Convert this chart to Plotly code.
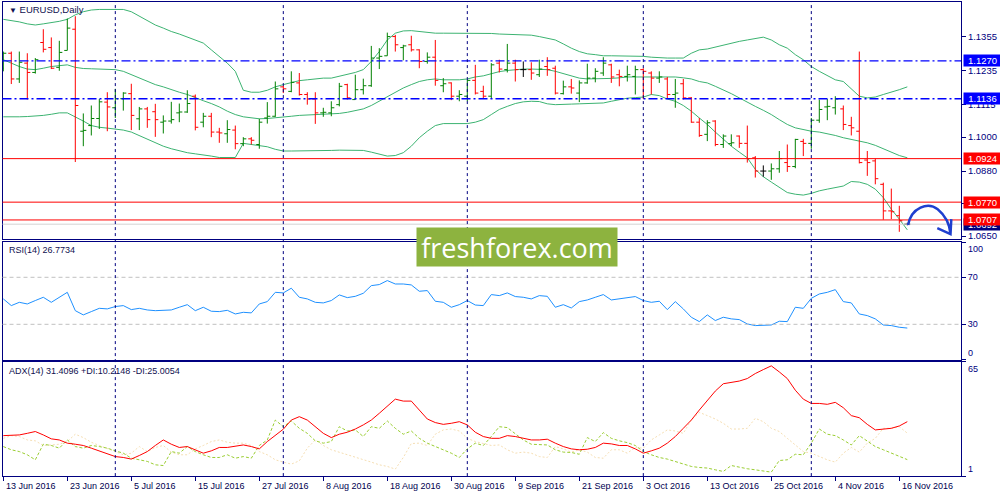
import plotly.graph_objects as go

# Daily bars 13 Jun 2016 .. 17 Nov 2016 (one entry per bar, index = position on chart)
bar_open = [1.1244, 1.1297, 1.1206, 1.1262, 1.1229, 1.1335, 1.1317, 1.1247, 1.1307, 1.1382,
            1.1021, 1.1041, 1.1066, 1.1124, 1.1104, 1.1136, 1.1154, 1.1065, 1.1100, 1.1090,
            1.1053, 1.1057, 1.1086, 1.1089, 1.1145, 1.1053, 1.1074, 1.1018, 1.1012, 1.1025,
            1.0977, 1.0994, 1.0974, 1.1068, 1.1074, 1.1178, 1.1162, 1.1192, 1.1151, 1.1135,
            1.1086, 1.1086, 1.1115, 1.1186, 1.1133, 1.1168, 1.1182, 1.1280, 1.1288, 1.1356,
            1.1317, 1.1327, 1.1309, 1.1268, 1.1283, 1.1182, 1.1192, 1.1145, 1.1145, 1.1201,
            1.1162, 1.1145, 1.1262, 1.1239, 1.1262, 1.1239, 1.1239, 1.1221, 1.1250, 1.1244,
            1.1154, 1.1178, 1.1156, 1.1192, 1.1209, 1.1227, 1.1256, 1.1221, 1.1215, 1.1215,
            1.1239, 1.1227, 1.1209, 1.1206, 1.1151, 1.1189, 1.1139, 1.1053, 1.1010, 1.1057,
            1.0974, 1.0977, 1.1004, 1.0978, 1.0927, 1.0880, 1.0880, 1.0888, 1.0910, 1.0896,
            1.0985, 1.0978, 1.1060, 1.1107, 1.1104, 1.1100, 1.1041, 1.1021, 1.0919, 1.0916,
            1.0833, 1.0739, 1.0722, 1.0692]
bar_high = [1.1303, 1.1303, 1.1303, 1.1297, 1.1280, 1.1382, 1.1353, 1.1341, 1.1420, 1.1428,
            1.1084, 1.1112, 1.1135, 1.1159, 1.1171, 1.1159, 1.1189, 1.1107, 1.1107, 1.1118,
            1.1077, 1.1125, 1.1119, 1.1166, 1.1151, 1.1086, 1.1086, 1.1033, 1.1060, 1.1041,
            1.1000, 1.1000, 1.1065, 1.1124, 1.1197, 1.1182, 1.1233, 1.1227, 1.1159, 1.1159,
            1.1104, 1.1127, 1.1192, 1.1189, 1.1221, 1.1207, 1.1323, 1.1315, 1.1370, 1.1362,
            1.1327, 1.1359, 1.1311, 1.1300, 1.1344, 1.1209, 1.1194, 1.1166, 1.1203, 1.1256,
            1.1182, 1.1262, 1.1274, 1.1330, 1.1274, 1.1268, 1.1265, 1.1274, 1.1283, 1.1253,
            1.1200, 1.1206, 1.1201, 1.1260, 1.1244, 1.1283, 1.1260, 1.1239, 1.1253, 1.1253,
            1.1244, 1.1233, 1.1233, 1.1213, 1.1206, 1.1206, 1.1142, 1.1068, 1.1060, 1.1060,
            1.1010, 1.1010, 1.1006, 1.1041, 1.0933, 1.0900, 1.0907, 1.0951, 1.0974, 1.0994,
            1.0994, 1.1068, 1.1133, 1.1135, 1.1145, 1.1112, 1.1072, 1.1303, 1.0951, 1.0924,
            1.0839, 1.0818, 1.0757, 1.0697]
bar_low = [1.1233, 1.1188, 1.1192, 1.1133, 1.1225, 1.1300, 1.1241, 1.1235, 1.1307, 1.0912,
           1.0968, 1.1006, 1.1029, 1.1021, 1.1068, 1.1094, 1.1025, 1.1025, 1.1033, 1.1001,
           1.1013, 1.1048, 1.1053, 1.1086, 1.1024, 1.1035, 1.1000, 1.0980, 1.0980, 1.0957,
           1.0968, 1.0974, 1.0959, 1.1048, 1.1072, 1.1156, 1.1159, 1.1147, 1.1115, 1.1047,
           1.1072, 1.1074, 1.1109, 1.1133, 1.1133, 1.1151, 1.1178, 1.1241, 1.1288, 1.1303,
           1.1272, 1.1303, 1.1244, 1.1260, 1.1182, 1.1159, 1.1131, 1.1127, 1.1127, 1.1151,
           1.1135, 1.1135, 1.1229, 1.1229, 1.1197, 1.1213, 1.1203, 1.1213, 1.1217, 1.1151,
           1.1151, 1.1154, 1.1124, 1.1189, 1.1194, 1.1217, 1.1192, 1.1180, 1.1197, 1.1151,
           1.1135, 1.1151, 1.1192, 1.1135, 1.1104, 1.1133, 1.1051, 1.1001, 1.0986, 1.0968,
           1.0962, 1.0968, 1.0962, 1.0910, 1.0857, 1.0860, 1.0849, 1.0874, 1.0877, 1.0890,
           1.0933, 1.0959, 1.1051, 1.1060, 1.1080, 1.1025, 1.1006, 1.0907, 1.0863, 1.0833,
           1.0708, 1.0710, 1.0665, 1.0688]
bar_close = [1.1297, 1.1206, 1.1265, 1.1229, 1.1274, 1.1311, 1.1244, 1.1300, 1.1386, 1.1112,
             1.1024, 1.1066, 1.1125, 1.1107, 1.1136, 1.1156, 1.1077, 1.1100, 1.1062, 1.1062,
             1.1057, 1.1062, 1.1089, 1.1119, 1.1035, 1.1074, 1.1018, 1.1015, 1.1027, 1.0977,
             1.0994, 1.0989, 1.1053, 1.1074, 1.1171, 1.1171, 1.1194, 1.1151, 1.1135, 1.1086,
             1.1088, 1.1104, 1.1180, 1.1139, 1.1168, 1.1182, 1.1280, 1.1286, 1.1356, 1.1327,
             1.1323, 1.1309, 1.1268, 1.1283, 1.1201, 1.1189, 1.1145, 1.1151, 1.1201, 1.1156,
             1.1145, 1.1256, 1.1241, 1.1262, 1.1239, 1.1239, 1.1227, 1.1241, 1.1239, 1.1156,
             1.1178, 1.1174, 1.1192, 1.1209, 1.1233, 1.1262, 1.1213, 1.1215, 1.1221, 1.1239,
             1.1233, 1.1209, 1.1213, 1.1151, 1.1156, 1.1139, 1.1053, 1.1006, 1.1051, 1.0974,
             1.1004, 1.0980, 1.0978, 1.0924, 1.0880, 1.0880, 1.0888, 1.0924, 1.0896, 1.0992,
             1.0978, 1.1060, 1.1098, 1.1109, 1.1135, 1.1045, 1.1033, 1.0910, 1.0910, 1.0853,
             1.0739, 1.0736, 1.0704, 1.0692]

# Bollinger Bands (20, 2)
bb_upper = [1.1417, 1.1413, 1.1408, 1.1401, 1.1397, 1.1401, 1.1405, 1.1410, 1.1417, 1.1433,
            1.1444, 1.1450, 1.1452, 1.1452, 1.1452, 1.1452, 1.1444, 1.1429, 1.1413, 1.1397,
            1.1386, 1.1374, 1.1365, 1.1354, 1.1342, 1.1333, 1.1309, 1.1286, 1.1262, 1.1233,
            1.1166, 1.1159, 1.1159, 1.1166, 1.1178, 1.1186, 1.1194, 1.1200, 1.1203, 1.1207,
            1.1209, 1.1209, 1.1215, 1.1221, 1.1229, 1.1239, 1.1268, 1.1303, 1.1344, 1.1368,
            1.1376, 1.1377, 1.1374, 1.1370, 1.1368, 1.1368, 1.1368, 1.1368, 1.1368, 1.1368,
            1.1368, 1.1367, 1.1365, 1.1364, 1.1363, 1.1362, 1.1361, 1.1356, 1.1350, 1.1344,
            1.1330, 1.1315, 1.1303, 1.1295, 1.1292, 1.1288, 1.1288, 1.1288, 1.1288, 1.1286,
            1.1286, 1.1283, 1.1281, 1.1280, 1.1280, 1.1280, 1.1297, 1.1309, 1.1312, 1.1319,
            1.1327, 1.1333, 1.1339, 1.1344, 1.1350, 1.1354, 1.1344, 1.1327, 1.1315, 1.1292,
            1.1274, 1.1250, 1.1233, 1.1218, 1.1203, 1.1197, 1.1171, 1.1145, 1.1139, 1.1142,
            1.1151, 1.1159, 1.1168, 1.1178]
bb_middle = [1.1274, 1.1262, 1.1250, 1.1241, 1.1239, 1.1244, 1.1250, 1.1253, 1.1256, 1.1247,
             1.1243, 1.1242, 1.1241, 1.1240, 1.1239, 1.1233, 1.1221, 1.1209, 1.1197, 1.1186,
             1.1178, 1.1168, 1.1159, 1.1151, 1.1139, 1.1129, 1.1119, 1.1107, 1.1092, 1.1080,
             1.1072, 1.1068, 1.1065, 1.1066, 1.1068, 1.1072, 1.1074, 1.1077, 1.1078, 1.1079,
             1.1080, 1.1082, 1.1084, 1.1088, 1.1094, 1.1100, 1.1112, 1.1127, 1.1145, 1.1159,
             1.1174, 1.1186, 1.1197, 1.1203, 1.1206, 1.1203, 1.1203, 1.1203, 1.1206, 1.1213,
             1.1217, 1.1225, 1.1232, 1.1236, 1.1239, 1.1241, 1.1241, 1.1241, 1.1239, 1.1233,
             1.1225, 1.1215, 1.1209, 1.1206, 1.1206, 1.1206, 1.1208, 1.1210, 1.1213, 1.1213,
             1.1213, 1.1213, 1.1215, 1.1213, 1.1213, 1.1210, 1.1206, 1.1197, 1.1192, 1.1180,
             1.1168, 1.1154, 1.1139, 1.1123, 1.1109, 1.1095, 1.1080, 1.1062, 1.1045, 1.1033,
             1.1027, 1.1021, 1.1018, 1.1013, 1.1006, 1.0998, 1.0992, 1.0986, 1.0980, 1.0971,
             1.0959, 1.0947, 1.0935, 1.0927]
bb_lower = [1.1072, 1.1071, 1.1072, 1.1073, 1.1074, 1.1077, 1.1081, 1.1086, 1.1086, 1.1072,
            1.1057, 1.1041, 1.1035, 1.1032, 1.1029, 1.1025, 1.1018, 1.1006, 1.0994, 1.0982,
            1.0968, 1.0959, 1.0951, 1.0945, 1.0941, 1.0938, 1.0933, 1.0928, 1.0927, 1.0928,
            1.0978, 1.0974, 1.0968, 1.0966, 1.0957, 1.0951, 1.0951, 1.0951, 1.0951, 1.0951,
            1.0952, 1.0953, 1.0954, 1.0954, 1.0954, 1.0953, 1.0947, 1.0939, 1.0933, 1.0935,
            1.0945, 1.0968, 1.0998, 1.1021, 1.1041, 1.1048, 1.1048, 1.1048, 1.1048, 1.1053,
            1.1062, 1.1080, 1.1098, 1.1109, 1.1119, 1.1125, 1.1127, 1.1126, 1.1118, 1.1115,
            1.1115, 1.1117, 1.1118, 1.1119, 1.1119, 1.1121, 1.1127, 1.1133, 1.1138, 1.1140,
            1.1142, 1.1151, 1.1147, 1.1135, 1.1127, 1.1112, 1.1092, 1.1068, 1.1045, 1.1018,
            1.0992, 1.0968, 1.0947, 1.0927, 1.0886, 1.0860, 1.0841, 1.0822, 1.0804, 1.0798,
            1.0795, 1.0801, 1.0810, 1.0816, 1.0822, 1.0827, 1.0843, 1.0841, 1.0833, 1.0816,
            1.0786, 1.0745, 1.0710, 1.0672]

rsi = [51.6, 45.9, 48.7, 47.3, 50.2, 53.0, 48.7, 53.0, 57.2, 41.6,
       38.0, 40.8, 43.6, 43.1, 45.1, 45.9, 42.5, 43.6, 42.2, 41.6,
       42.2, 42.2, 44.5, 46.7, 41.6, 44.5, 41.1, 40.8, 41.9, 38.8,
       40.2, 39.7, 47.3, 49.3, 57.2, 56.7, 60.7, 53.0, 51.6, 48.7,
       48.2, 50.2, 55.0, 52.7, 53.8, 56.4, 62.9, 63.8, 67.2, 64.3,
       64.3, 63.5, 58.1, 58.7, 49.6, 48.7, 44.5, 46.7, 50.2, 46.4,
       45.9, 55.3, 54.4, 56.7, 53.6, 53.0, 51.6, 54.4, 53.8, 44.5,
       46.7, 43.9, 49.3, 50.7, 53.0, 55.3, 50.7, 51.6, 52.1, 53.6,
       50.2, 48.7, 49.6, 42.5, 49.3, 43.1, 36.0, 32.3, 38.0, 33.2,
       36.0, 34.6, 34.0, 30.3, 28.9, 28.9, 29.4, 32.6, 32.3, 44.5,
       43.6, 52.1, 55.8, 57.2, 59.5, 49.3, 48.2, 38.8, 37.4, 34.6,
       29.4, 28.9, 27.5, 26.8]

adx = [23.6, 23.6, 24.0, 24.9, 25.9, 24.0, 21.8, 21.2, 19.4, 18.8,
       18.1, 16.6, 15.1, 13.2, 11.9, 11.4, 10.5, 12.5, 14.7, 18.1,
       21.2, 18.8, 17.0, 17.5, 15.7, 13.8, 15.1, 17.0, 17.0, 17.5,
       18.4, 17.5, 16.2, 20.3, 23.6, 27.2, 32.3, 34.2, 32.3, 28.6,
       24.9, 22.5, 24.4, 25.5, 27.3, 29.6, 32.3, 36.1, 40.3, 44.0,
       42.9, 42.9, 37.9, 32.9, 30.9, 29.9, 30.5, 31.4, 29.6, 25.5,
       23.1, 22.1, 22.1, 23.6, 23.1, 22.1, 21.2, 21.2, 21.6, 19.4,
       17.5, 16.2, 15.7, 16.0, 17.0, 19.4, 19.0, 18.1, 18.1, 16.2,
       13.8, 15.1, 16.6, 19.4, 23.1, 27.7, 32.3, 37.9, 43.5, 48.5,
       52.6, 53.3, 54.1, 55.5, 58.3, 60.5, 62.6, 59.2, 55.5, 49.0,
       44.0, 41.6, 41.6, 41.1, 42.2, 39.2, 34.8, 33.6, 29.9, 26.8,
       27.2, 27.7, 29.0, 31.4]
plus_di = [17.5, 15.7, 14.7, 12.9, 10.1, 18.8, 18.1, 16.6, 21.2, 17.5,
           16.6, 18.1, 17.5, 16.6, 15.1, 13.8, 11.0, 10.1, 9.2, 7.3,
           6.9, 14.7, 13.8, 17.5, 14.7, 12.9, 11.4, 11.4, 12.9, 11.0,
           11.9, 11.0, 18.1, 21.2, 32.3, 28.6, 31.8, 27.7, 24.9, 20.7,
           19.4, 20.3, 28.6, 26.2, 26.8, 23.1, 28.6, 27.7, 31.8, 27.7,
           24.4, 26.2, 22.1, 19.4, 17.5, 15.7, 13.8, 11.4, 16.2, 19.4,
           18.1, 23.1, 28.6, 28.1, 24.9, 21.2, 18.8, 18.8, 18.4, 15.7,
           14.4, 14.2, 13.2, 22.5, 20.3, 25.3, 22.1, 20.7, 19.7, 18.1,
           14.7, 12.9, 11.4, 10.5, 9.2, 7.7, 6.4, 5.8, 5.5, 4.5,
           3.6, 6.9, 5.8, 5.1, 4.5, 4.0, 3.2, 9.7, 10.1, 13.2,
           12.9, 19.4, 27.3, 24.4, 23.6, 21.2, 18.4, 23.6, 20.7, 17.5,
           15.7, 13.8, 11.9, 10.2]
minus_di = [22.1, 23.6, 23.1, 21.2, 20.7, 18.1, 18.4, 18.8, 20.3, 24.4,
            22.5, 19.9, 18.1, 16.2, 14.7, 12.9, 13.8, 17.5, 14.7, 17.0,
            18.1, 14.4, 12.9, 12.9, 16.2, 18.1, 20.3, 21.2, 19.9, 19.4,
            19.4, 18.1, 14.7, 12.9, 10.1, 8.8, 7.7, 9.5, 16.6, 21.2,
            18.1, 15.7, 14.4, 12.9, 11.4, 10.1, 8.8, 7.3, 6.4, 4.9,
            11.4, 19.2, 19.4, 18.1, 24.4, 26.8, 27.3, 26.2, 22.1, 20.3,
            19.4, 18.1, 18.4, 15.7, 13.8, 14.4, 13.8, 11.9, 11.4, 17.5,
            16.2, 14.4, 15.7, 14.4, 11.4, 11.0, 15.7, 15.7, 13.8, 17.0,
            16.6, 21.2, 24.0, 26.8, 26.2, 24.9, 32.3, 36.6, 34.8, 32.9,
            30.5, 27.3, 27.3, 27.7, 33.3, 31.4, 27.7, 25.9, 22.1, 18.4,
            14.7, 13.8, 11.9, 10.1, 8.8, 13.8, 17.0, 14.4, 19.4, 22.1,
            27.7, 27.7, 28.6, 25.0]

date_pos = [0, 8, 16, 24, 32, 40, 48, 56, 64, 72, 80, 88, 96, 104, 112]
date_labels = ["13 Jun 2016", "23 Jun 2016", "5 Jul 2016", "15 Jul 2016", "27 Jul 2016",
               "8 Aug 2016", "18 Aug 2016", "30 Aug 2016", "9 Sep 2016", "21 Sep 2016",
               "3 Oct 2016", "13 Oct 2016", "25 Oct 2016", "4 Nov 2016", "16 Nov 2016"]
month_starts = [14, 35, 58, 80, 101]

price_ticks = [1.1355, 1.1235, 1.1115, 1.1000, 1.0880, 1.0765, 1.0650]
blue_levels = [1.1270, 1.1136]
red_levels = [1.0924, 1.0770, 1.0707]
last_price = 1.0692

NAVY = "#000080"
FONT = "Liberation Sans, Arial, sans-serif"
n = len(bar_close)


def bar_segments(idx):
    xs, ys = [], []
    for i in idx:
        xs += [i, i, None, i - 0.38, i, None, i, i + 0.38, None]
        ys += [bar_low[i], bar_high[i], None, bar_open[i], bar_open[i], None,
               bar_close[i], bar_close[i], None]
    return xs, ys


up = [i for i in range(n) if bar_close[i] > bar_open[i]]
down = [i for i in range(n) if bar_close[i] < bar_open[i]]
flat = [i for i in range(n) if bar_close[i] == bar_open[i]]

fig = go.Figure()
xs_i = list(range(n))

for band in (bb_upper, bb_middle, bb_lower):
    fig.add_trace(go.Scatter(x=xs_i, y=band, mode="lines",
                             line=dict(color="#3CB371", width=1), xaxis="x", yaxis="y"))

for idx, col in ((up, "#008000"), (down, "#FF0000"), (flat, "#000000")):
    bx, by = bar_segments(idx)
    fig.add_trace(go.Scatter(x=bx, y=by, mode="lines", line=dict(color=col, width=1),
                             xaxis="x", yaxis="y"))

fig.add_trace(go.Scatter(x=xs_i, y=rsi, mode="lines", line=dict(color="#1E90FF", width=1),
                         xaxis="x2", yaxis="y2"))

fig.add_trace(go.Scatter(x=xs_i, y=minus_di, mode="lines",
                         line=dict(color="#F5DEB3", width=1, dash="2px,2px"), xaxis="x3", yaxis="y3"))
fig.add_trace(go.Scatter(x=xs_i, y=plus_di, mode="lines",
                         line=dict(color="#9ACD32", width=1, dash="3px,2px"), xaxis="x3", yaxis="y3"))
fig.add_trace(go.Scatter(x=xs_i, y=adx, mode="lines", line=dict(color="#FF0000", width=1),
                         xaxis="x3", yaxis="y3"))

xrange = [-0.1, -0.1 + 958.5 / 8]
xdom = [0.0025, 0.961]
axis_common = dict(showline=True, mirror=True, linecolor=NAVY, linewidth=1,
                   showgrid=False, zeroline=False)

shapes = []
for lv in blue_levels:
    shapes.append(dict(type="line", xref="x domain", yref="y", x0=0, x1=1, y0=lv, y1=lv,
                       line=dict(color="#0000FF", width=1.3, dash="9px,3px,2px,3px")))
for lv in red_levels:
    shapes.append(dict(type="line", xref="x domain", yref="y", x0=0, x1=1, y0=lv, y1=lv,
                       line=dict(color="#FF0000", width=1)))
shapes.append(dict(type="line", xref="x domain", yref="y", x0=0, x1=1, y0=last_price,
                   y1=last_price, line=dict(color="#D3D3D3", width=1)))
for lv in (70, 30):
    shapes.append(dict(type="line", xref="x2 domain", yref="y2", x0=0, x1=1, y0=lv, y1=lv,
                       line=dict(color="#C0C0C0", width=1, dash="4px,3px")))
for m in month_starts:
    shapes.append(dict(type="line", xref="x", yref="paper", x0=m, x1=m, y0=0.044, y1=0.996,
                       line=dict(color=NAVY, width=1, dash="3px,3px")))
# hand drawn forecast arrow
shapes.append(dict(type="path", xref="x", yref="y", layer="above",
                   path="M 113.1,1.0689 C 113.5,1.0752 115.6,1.0772 116.8,1.0745 "
                        "C 117.8,1.0722 118.3,1.0690 118.4,1.0657 "
                        "M 116.75,1.0678 L 118.4,1.0657 L 118.5,1.0710",
                   line=dict(color="#1F3FCF", width=2.5)))

annotations = []
for pos, lab in zip(date_pos, date_labels):
    annotations.append(dict(x=pos, xref="x3", y=0.024, yref="paper", text=lab,
                            showarrow=False, xanchor="left", yanchor="middle", xshift=1,
                            font=dict(family=FONT, size=9, color="#000050")))

level_boxes = [(last_price, NAVY), (1.1270, "#0000FF"), (1.1136, "#0000FF"),
               (1.0924, "#FF0000"), (1.0770, "#FF0000"), (1.0707, "#FF0000")]
for lv, col in level_boxes:
    annotations.append(dict(x=0.9625, xref="paper", y=lv, yref="y", text=f"{lv:.4f}",
                            showarrow=False, xanchor="left", yanchor="middle",
                            bgcolor=col, width=37, height=11, borderpad=0, align="center",
                            font=dict(family=FONT, size=9.5, color="white")))

annotations += [
    dict(x=0.007, y=0.981, xref="paper", yref="paper", xanchor="left", yanchor="middle",
         showarrow=False, text="<span style='font-size:8px'>▼</span> EURUSD,Daily",
         font=dict(family=FONT, size=9.5, color="#101050")),
    dict(x=0.007, y=1 - 251 / 500, xref="paper", yref="paper", xanchor="left",
         yanchor="middle", showarrow=False, text="RSI(14) 26.7734",
         font=dict(family=FONT, size=9, color="#101050")),
    dict(x=0.007, y=1 - 372 / 500, xref="paper", yref="paper", xanchor="left",
         yanchor="middle", showarrow=False,
         text="ADX(14) 31.4096 +DI:10.2148 -DI:25.0054",
         font=dict(family=FONT, size=9, color="#101050")),
    dict(x=0.966, xref="paper", y=100, yref="y2", text="100", showarrow=False,
         xanchor="left", yanchor="top", font=dict(family=FONT, size=9, color=NAVY)),
    dict(x=0.966, xref="paper", y=0, yref="y2", text="0", showarrow=False,
         xanchor="left", yanchor="bottom", font=dict(family=FONT, size=9, color=NAVY)),
    dict(x=0.966, xref="paper", y=65, yref="y3", text="65", showarrow=False,
         xanchor="left", yanchor="top", font=dict(family=FONT, size=9, color=NAVY)),
    dict(x=0.966, xref="paper", y=1, yref="y3", text="1", showarrow=False,
         xanchor="left", yanchor="bottom", font=dict(family=FONT, size=9, color=NAVY)),
    dict(x=0.517, y=1 - 248 / 500, xref="paper", yref="paper", showarrow=False,
         text="freshforex.com", bgcolor="#8DB33F", width=200, height=38, borderpad=0,
         font=dict(family="Open Sans", size=27, color="white")),
]

fig.update_layout(
    width=1000, height=500,
    margin=dict(l=0, r=0, t=0, b=0),
    paper_bgcolor="white", plot_bgcolor="white",
    showlegend=False,
    xaxis=dict(domain=xdom, range=xrange, anchor="y", showticklabels=False, ticks="",
               **axis_common),
    xaxis2=dict(domain=xdom, range=xrange, anchor="y2", showticklabels=False, ticks="",
                **axis_common),
    xaxis3=dict(domain=xdom, range=xrange, anchor="y3", showticklabels=False,
                tickvals=date_pos, ticks="outside", ticklen=4, tickcolor=NAVY, **axis_common),
    yaxis=dict(domain=[0.52, 0.996], range=[1.06394, 1.14784], anchor="x", side="right",
               tickvals=price_ticks, ticktext=[f"{v:.4f}" for v in price_ticks],
               ticks="outside", ticklen=4, tickcolor=NAVY,
               tickfont=dict(family=FONT, size=9.5, color=NAVY), **axis_common),
    yaxis2=dict(domain=[0.278, 0.514], range=[0, 100], anchor="x2", side="right",
                tickvals=[100, 70, 30, 0], ticktext=["", "70", "30", ""],
                ticks="outside", ticklen=4, tickcolor=NAVY,
                tickfont=dict(family=FONT, size=9, color=NAVY), **axis_common),
    yaxis3=dict(domain=[0.044, 0.274], range=[1, 65], anchor="x3", side="right",
                tickvals=[65, 1], ticktext=["", ""], ticks="outside", ticklen=4,
                tickcolor=NAVY, **axis_common),
    shapes=shapes,
    annotations=annotations,
)

# the page gets the browser's default body margin, drop it so the chart sits at 0,0
fig.write_html("out.html", config={"displayModeBar": False},
               post_script="document.body.style.margin='0';")
